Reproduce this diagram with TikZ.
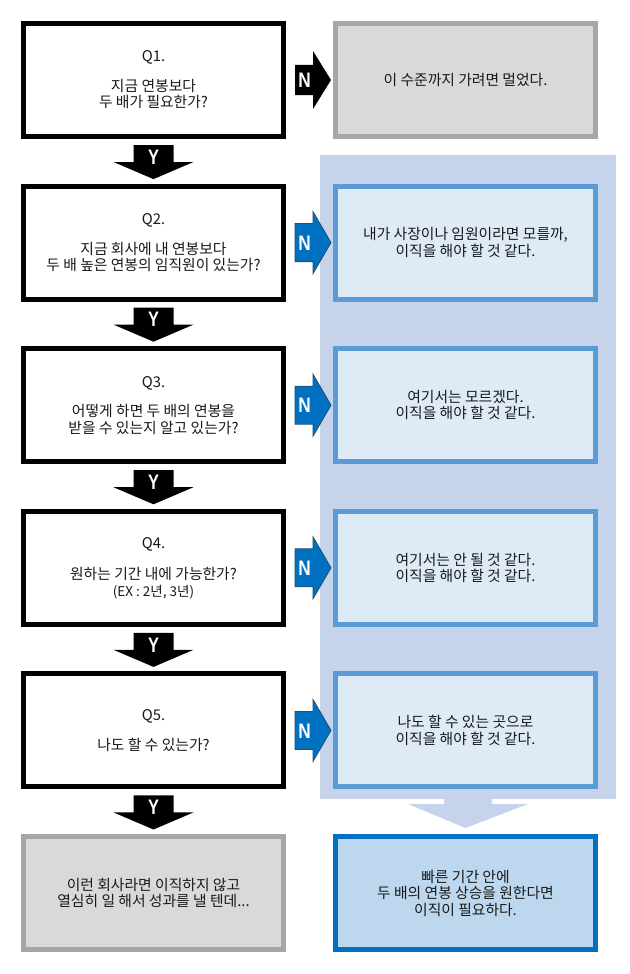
\documentclass[tikz,border=0pt]{standalone}
\usepackage{fontspec}
\setmainfont{Noto Sans CJK KR}
\newfontfamily\labfont{Liberation Sans}
\usetikzlibrary{calc}
\definecolor{panelc}{RGB}{197,212,235}
\definecolor{grayb}{RGB}{166,166,166}
\definecolor{grayf}{RGB}{217,217,217}
\definecolor{blueb}{RGB}{91,155,213}
\definecolor{bluef}{RGB}{222,235,247}
\definecolor{finb}{RGB}{0,112,192}
\definecolor{finf}{RGB}{189,215,238}
\definecolor{narrf}{RGB}{0,112,192}
\definecolor{narrd}{RGB}{31,78,121}
\definecolor{txt}{RGB}{25,25,25}
\tikzset{
  boxbase/.style={rectangle, line width=5pt, minimum width=260pt, minimum height=113pt,
    outer sep=0pt, inner sep=0pt, align=center, text=txt,
    font=\fontsize{14.8}{16.5}\selectfont},
  qstyle/.style={boxbase, draw=black, fill=white},
  gstyle/.style={boxbase, draw=grayb, fill=grayf},
  bstyle/.style={boxbase, draw=blueb, fill=bluef},
  fstyle/.style={boxbase, draw=finb, fill=finf},
  letterlab/.style={text=white, inner sep=0pt,
    font=\labfont\bfseries\fontsize{21}{21}\selectfont},
  blackarr/.style={fill=black},
  bluearr/.style={fill=narrf, draw=narrd, line width=0.8pt, line join=miter},
}
\newcommand\yarrow[2]{%
  \fill[black] ($(#1.south)+(-20,8.5)$) -- ++(40,0) -- ++(0,17) -- ++(20,0)
    -- ($(#2.north)+(0,-7)$) -- ($(#1.south)+(-40,25.5)$) -- ++(20,0) -- cycle;
  \node[letterlab] at ($(#1.south)+(0,20.5)$) {\scalebox{0.78}[1]{Y}};}
\newcommand\narrow[5]{%
  \path[#1] ($(#2.east)+(11.5,-#4)$) -- ($(#2.east)+(29.5,-#4)$) -- ($(#2.east)+(29.5,-#5)$)
    -- ($(#3.west)+(-4.5,0)$) -- ($(#2.east)+(29.5,#5)$) -- ($(#2.east)+(29.5,#4)$)
    -- ($(#2.east)+(11.5,#4)$) -- cycle;
  \node[letterlab] at ($(#2.east)+(21,0.5)$) {\scalebox{0.82}[1]{N}};}
\begin{document}
\begin{tikzpicture}[x=1pt,y=-1pt]
\useasboundingbox (0,0) rectangle (629,974);
\fill[white] (0,0) rectangle (629,974);
% background panel
\node[fill=panelc, minimum width=296pt, minimum height=644pt, inner sep=0pt, outer sep=0pt] (panel) at (468,477) {};
% question boxes
\node[qstyle] (q1) at (153.5,80) {Q1.\\[13pt]지금 연봉보다\\두 배가 필요한가?};
\node[qstyle] (q2) at (153.5,242.6) {Q2.\\[13pt]지금 회사에 내 연봉보다\\두 배 높은 연봉의 임직원이 있는가?};
\node[qstyle] (q3) at (153.5,405.2) {Q3.\\[13pt]어떻게 하면 두 배의 연봉을\\받을 수 있는지 알고 있는가?};
\node[qstyle] (q4) at (153.5,567.8) {Q4.\\[15pt]원하는 기간 내에 가능한가?\\{\fontsize{13.5}{15.5}\selectfont (EX : 2년, 3년)}};
\node[qstyle] (q5) at (153.5,730.4) {Q5.\\[13pt]나도 할 수 있는가?};
\node[gstyle] (end) at (153.5,893) {이런 회사라면 이직하지 않고\\열심히 일 해서 성과를 낼 텐데...};
% answer boxes
\node[gstyle] (r1) at (465.5,80) {이 수준까지 가려면 멀었다.};
\node[bstyle] (r2) at (465.5,242.6) {내가 사장이나 임원이라면 모를까,\\이직을 해야 할 것 같다.};
\node[bstyle] (r3) at (465.5,405.2) {여기서는 모르겠다.\\이직을 해야 할 것 같다.};
\node[bstyle] (r4) at (465.5,567.8) {여기서는 안 될 것 같다.\\이직을 해야 할 것 같다.};
\node[bstyle] (r5) at (465.5,730.4) {나도 할 수 있는 곳으로\\이직을 해야 할 것 같다.};
\node[fstyle] (fin) at (465.5,893) {빠른 기간 안에\\두 배의 연봉 상승을 원한다면\\이직이 필요하다.};
% Y arrows
\yarrow{q1}{q2}
\yarrow{q2}{q3}
\yarrow{q3}{q4}
\yarrow{q4}{q5}
\yarrow{q5}{end}
% N arrows
\narrow{blackarr}{q1}{r1}{15}{29}
\narrow{bluearr}{q2}{r2}{19}{31}
\narrow{bluearr}{q3}{r3}{19}{31}
\narrow{bluearr}{q4}{r4}{19}{31}
\narrow{bluearr}{q5}{r5}{19}{31}
% big arrow from panel to final box
\fill[panelc] ($(panel.south)+(-24,-1)$) -- ($(panel.south)+(24,-1)$) -- ($(panel.south)+(24,5)$)
  -- ($(panel.south)+(60,5)$) -- ($(fin.north)+(0,-8.5)$) -- ($(panel.south)+(-60,5)$)
  -- ($(panel.south)+(-24,5)$) -- cycle;
\end{tikzpicture}
\end{document}
